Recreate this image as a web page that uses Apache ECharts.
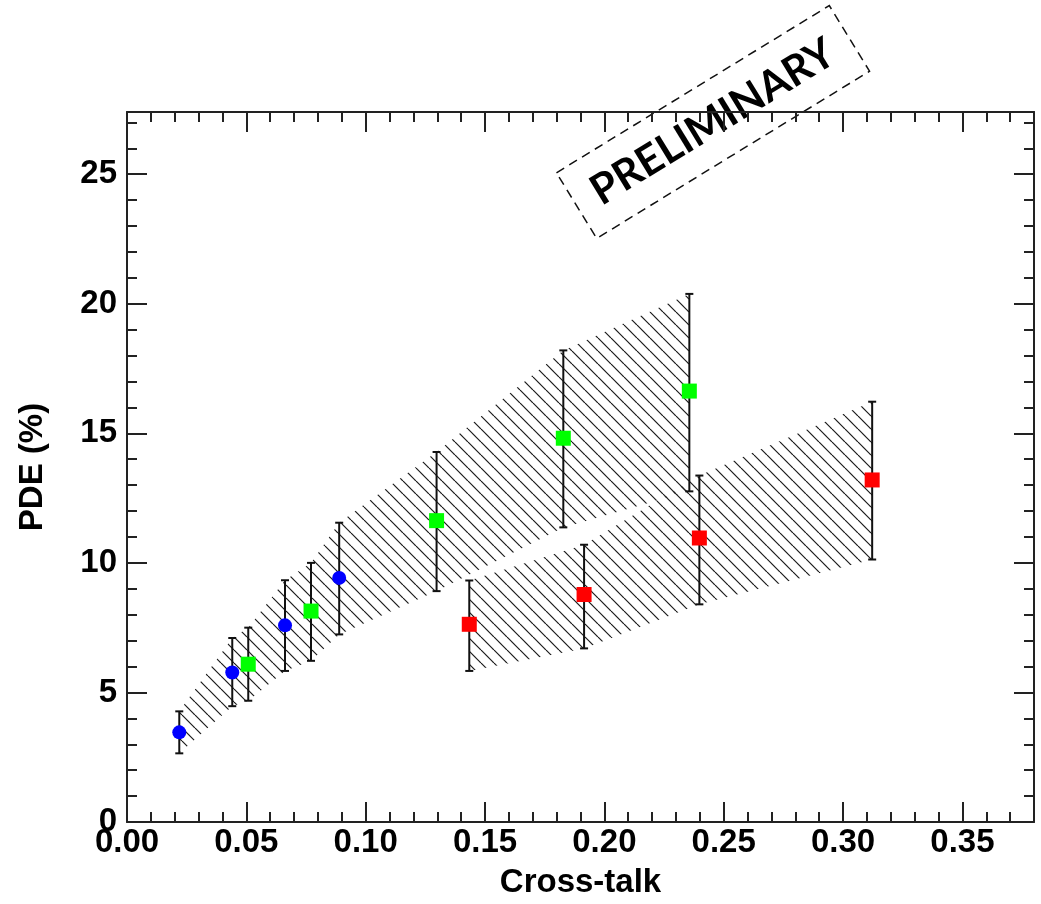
<!DOCTYPE html>
<html><head><meta charset="utf-8">
<script src="https://cdn.jsdelivr.net/npm/echarts@6/dist/echarts.min.js"></script>
<style>html,body{margin:0;padding:0;background:#fff}#c{width:1041px;height:904px}</style>
</head><body><div id="c"></div>
<script>
// ---- data ----
const blueX  = [0.0219, 0.0441, 0.0662, 0.0889];
const blueY  = [3.46, 5.77, 7.59, 9.42];
const blueLo = [2.65, 4.47, 5.83, 7.24];
const blueHi = [4.27, 7.10, 9.33, 11.55];

const greenX  = [0.0508, 0.0771, 0.1297, 0.1828, 0.2356];
const greenY  = [6.09, 8.14, 11.63, 14.81, 16.63];
const greenLo = [4.68, 6.22, 8.91, 11.37, 12.76];
const greenHi = [7.50, 10.00, 14.28, 18.20, 20.38];

const redX  = [0.1434, 0.1915, 0.2398, 0.3122];
const redY  = [7.63, 8.78, 10.96, 13.20];
const redLo = [5.83, 6.70, 8.40, 10.13];
const redHi = [9.32, 10.70, 13.37, 16.22];

const xTicks = [0, 0.05, 0.10, 0.15, 0.20, 0.25, 0.30, 0.35];
const yTicks = [0, 5, 10, 15, 20, 25];
const xRange = [0, 0.38];
const yRange = [0, 27.4];

// ---- helpers ----
function minorVals(step, lo, hi, majors) {
  const out = [];
  for (let v = lo; v <= hi + 1e-9; v += step) {
    const r = Math.round(v / step) * step;
    if (!majors.some(m => Math.abs(m - r) < step / 10)) out.push(+r.toFixed(4));
  }
  return out;
}
const xMinor = minorVals(0.01, 0, 0.38, xTicks);
const yMinor = minorVals(1, 0, 27, yTicks);

function hatchCanvas() {
  const s = 13, c = document.createElement('canvas');
  c.width = s; c.height = s;
  const g = c.getContext('2d');
  g.strokeStyle = '#1a1a1a'; g.lineWidth = 1.2;
  for (const k of [-s, 0, s]) { g.beginPath(); g.moveTo(k, 0); g.lineTo(k + s, s); g.stroke(); }
  return c;
}
const hatch = { image: hatchCanvas(), repeat: 'repeat' };

function bandSeries(xs, lo, hi) {
  const idx = xs.map((_, i) => i).sort((a, b) => xs[a] - xs[b]);
  return {
    type: 'custom', z: 1, silent: true,
    data: [[xs[idx[0]], lo[idx[0]]]],
    renderItem: (p, api) => {
      const top = idx.map(i => api.coord([xs[i], hi[i]]));
      const bot = idx.slice().reverse().map(i => api.coord([xs[i], lo[i]]));
      return { type: 'polygon', shape: { points: top.concat(bot) }, style: { fill: hatch, stroke: null } };
    }
  };
}
function errSeries(xs, lo, hi) {
  return {
    type: 'custom', z: 3, silent: true,
    data: xs.map((x, i) => [x, lo[i], hi[i]]),
    renderItem: (p, api) => {
      const a = api.coord([api.value(0), api.value(2)]);
      const b = api.coord([api.value(0), api.value(1)]);
      const w = 4, st = { stroke: '#111', lineWidth: 2 };
      return { type: 'group', children: [
        { type: 'line', shape: { x1: a[0], y1: a[1], x2: b[0], y2: b[1] }, style: st },
        { type: 'line', shape: { x1: a[0] - w, y1: a[1], x2: a[0] + w, y2: a[1] }, style: st },
        { type: 'line', shape: { x1: b[0] - w, y1: b[1], x2: b[0] + w, y2: b[1] }, style: st }
      ]};
    }
  };
}
function scatter(xs, ys, color, symbol, size) {
  return { type: 'scatter', z: 4, symbol: symbol, symbolSize: size,
    itemStyle: { color: color, opacity: 1 },
    data: xs.map((x, i) => [x, ys[i]]) };
}

const FONT = '"Liberation Sans", Arial, sans-serif';
const lineSt = { color: '#222', width: 2 };
function axis(kind, pos, vals, len, showLine, labels) {
  const range = kind === 'x' ? xRange : yRange;
  return {
    type: 'value', position: pos, min: range[0], max: range[1],
    axisLine: { show: showLine, onZero: false, lineStyle: lineSt },
    axisTick: { show: true, inside: true, length: len, customValues: vals, lineStyle: { color: '#222', width: 2 } },
    minorTick: { show: false },
    splitLine: { show: false },
    axisLabel: labels ? {
      show: true, customValues: vals, margin: kind === 'x' ? 4 : 10,
      fontFamily: FONT, fontWeight: 'bold', fontSize: 33, color: '#000',
      formatter: v => kind === 'x' ? v.toFixed(2) : String(Math.round(v))
    } : { show: false }
  };
}

const xAxes = [
  axis('x', 'bottom', xTicks, 20, true, true),
  axis('x', 'bottom', xMinor, 10, false, false),
  axis('x', 'top', xTicks, 20, true, false),
  axis('x', 'top', xMinor, 10, false, false)
];
xAxes[0].name = 'Cross-talk';
xAxes[0].nameLocation = 'middle';
xAxes[0].nameGap = 44;
xAxes[0].nameTextStyle = { fontFamily: FONT, fontWeight: 'bold', fontSize: 33, color: '#000' };

const yAxes = [
  axis('y', 'left', yTicks, 20, true, true),
  axis('y', 'left', yMinor, 10, false, false),
  axis('y', 'right', yTicks, 20, true, false),
  axis('y', 'right', yMinor, 10, false, false)
];
yAxes[0].name = 'PDE (%)';
yAxes[0].nameLocation = 'middle';
yAxes[0].nameGap = 78;
yAxes[0].nameTextStyle = { fontFamily: FONT, fontWeight: 'bold', fontSize: 33, color: '#000' };

const chart = echarts.init(document.getElementById('c'), null, { renderer: 'canvas' });
chart.setOption({
  backgroundColor: '#fff',
  animation: false,
  grid: { left: 127, right: 7, top: 112, bottom: 79, containLabel: false },
  xAxis: xAxes,
  yAxis: yAxes,
  series: [
    bandSeries(blueX.concat(greenX), blueLo.concat(greenLo), blueHi.concat(greenHi)),
    bandSeries(redX, redLo, redHi),
    errSeries(blueX, blueLo, blueHi),
    errSeries(greenX, greenLo, greenHi),
    errSeries(redX, redLo, redHi),
    scatter(blueX, blueY, '#0000ff', 'circle', 14),
    scatter(greenX, greenY, '#00ff00', 'rect', 15),
    scatter(redX, redY, '#ff0000', 'rect', 15)
  ],
  graphic: [{
    type: 'group', x: 713, y: 122, rotation: 31.5 * Math.PI / 180, z: 10,
    children: [
      { type: 'rect', shape: { x: -160, y: -38.5, width: 320, height: 77 },
        style: { fill: 'rgba(0,0,0,0)', stroke: '#111', lineWidth: 1.5, lineDash: [9, 6] } },
      { type: 'text', x: 0, y: 0,
        style: { text: 'PRELIMINARY', fill: '#000', fontFamily: 'Lato, "Open Sans", sans-serif',
          fontWeight: 'bold', fontSize: 42, align: 'center', verticalAlign: 'middle',
          textAlign: 'center', textVerticalAlign: 'middle' } }
    ]
  }]
});
</script>
</body></html>
